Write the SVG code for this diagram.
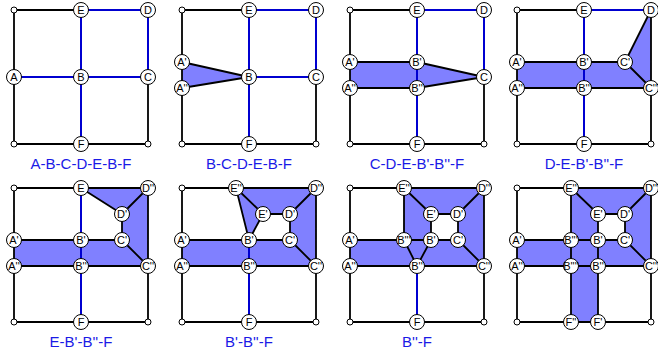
<svg xmlns="http://www.w3.org/2000/svg" width="658" height="353" viewBox="0 0 658 353">
<style>
.k{stroke:#000;stroke-width:1.8;fill:none;stroke-linejoin:round}
.b{stroke:#0000d0;stroke-width:2;fill:none}
.f{fill:#8080ff;stroke:none;fill-rule:evenodd}
.n circle{fill:#fff;stroke:#000;stroke-width:1}
.n text{font-family:"Liberation Sans",Arial,sans-serif;font-size:11px;text-anchor:middle;fill:#000}
.c{fill:#fff;stroke:#000;stroke-width:1}
.lbl{font-family:"Liberation Sans",Arial,sans-serif;font-size:15px;text-anchor:middle;fill:#1a1ae6}
</style>
<rect width="658" height="353" fill="#fff"/>

<!-- Panel 1 -->
<g id="panel1" transform="translate(14,10)">
<g id="p1-connectors">
<path class="k" d="M67,0 H0 V134 H134 V67"/>
<path class="b" d="M67,0 H134 V67 M0,67 H134 M67,0 V134"/>
</g>
<circle class="c" cx="0" cy="0" r="3"/><circle class="c" cx="0" cy="134" r="3"/><circle class="c" cx="134" cy="134" r="3"/>
<g id="p1-E" class="n"><circle cx="67" cy="0" r="7.5"/><text x="67" y="4">E</text></g>
<g id="p1-D" class="n"><circle cx="134" cy="0" r="7.5"/><text x="134" y="4">D</text></g>
<g id="p1-A" class="n"><circle cx="0" cy="67" r="7.5"/><text x="0" y="71">A</text></g>
<g id="p1-B" class="n"><circle cx="67" cy="67" r="7.5"/><text x="67" y="71">B</text></g>
<g id="p1-C" class="n"><circle cx="134" cy="67" r="7.5"/><text x="134" y="71">C</text></g>
<g id="p1-F" class="n"><circle cx="67" cy="134" r="7.5"/><text x="67" y="138">F</text></g>
<text class="lbl" x="67" y="159">A-B-C-D-E-B-F</text>
</g>

<!-- Panel 2 -->
<g id="panel2" transform="translate(182,10)">
<g id="p2-connectors">
<polygon class="f" points="0,52 67,67 0,78"/>
<path class="k" d="M67,0 H0 V134 H134 V67 M0,52 L67,67 L0,78"/>
<path class="b" d="M67,0 H134 V67 H67 M67,0 V134"/>
</g>
<circle class="c" cx="0" cy="0" r="3"/><circle class="c" cx="0" cy="134" r="3"/><circle class="c" cx="134" cy="134" r="3"/>
<g id="p2-E" class="n"><circle cx="67" cy="0" r="7.5"/><text x="67" y="4">E</text></g>
<g id="p2-D" class="n"><circle cx="134" cy="0" r="7.5"/><text x="134" y="4">D</text></g>
<g id="p2-A1" class="n"><circle cx="0" cy="52" r="7.5"/><text x="0" y="56">A'</text></g>
<g id="p2-A2" class="n"><circle cx="0" cy="78" r="7.5"/><text x="0" y="82">A''</text></g>
<g id="p2-B" class="n"><circle cx="67" cy="67" r="7.5"/><text x="67" y="71">B</text></g>
<g id="p2-C" class="n"><circle cx="134" cy="67" r="7.5"/><text x="134" y="71">C</text></g>
<g id="p2-F" class="n"><circle cx="67" cy="134" r="7.5"/><text x="67" y="138">F</text></g>
<text class="lbl" x="67" y="159">B-C-D-E-B-F</text>
</g>

<!-- Panel 3 -->
<g id="panel3" transform="translate(350,10)">
<g id="p3-connectors">
<polygon class="f" points="0,52 67,52 134,67 67,78 0,78"/>
<path class="k" d="M67,0 H0 V134 H134 V67 M0,52 H67 L134,67 L67,78 H0"/>
<path class="b" d="M67,0 H134 V67 M67,0 V134"/>
</g>
<circle class="c" cx="0" cy="0" r="3"/><circle class="c" cx="0" cy="134" r="3"/><circle class="c" cx="134" cy="134" r="3"/>
<g id="p3-E" class="n"><circle cx="67" cy="0" r="7.5"/><text x="67" y="4">E</text></g>
<g id="p3-D" class="n"><circle cx="134" cy="0" r="7.5"/><text x="134" y="4">D</text></g>
<g id="p3-A1" class="n"><circle cx="0" cy="52" r="7.5"/><text x="0" y="56">A'</text></g>
<g id="p3-A2" class="n"><circle cx="0" cy="78" r="7.5"/><text x="0" y="82">A''</text></g>
<g id="p3-B1" class="n"><circle cx="67" cy="52" r="7.5"/><text x="67" y="56">B'</text></g>
<g id="p3-B2" class="n"><circle cx="67" cy="78" r="7.5"/><text x="67" y="82">B''</text></g>
<g id="p3-C" class="n"><circle cx="134" cy="67" r="7.5"/><text x="134" y="71">C</text></g>
<g id="p3-F" class="n"><circle cx="67" cy="134" r="7.5"/><text x="67" y="138">F</text></g>
<text class="lbl" x="67" y="159">C-D-E-B'-B''-F</text>
</g>

<!-- Panel 4 -->
<g id="panel4" transform="translate(517,10)">
<g id="p4-connectors">
<polygon class="f" points="0,52 108,52 134,0 134,78 0,78"/>
<path class="k" d="M67,0 H0 V134 H134 V0 M0,52 H108 L134,0 M108,52 L134,78 H0"/>
<path class="b" d="M67,0 H134 M67,0 V134"/>
</g>
<circle class="c" cx="0" cy="0" r="3"/><circle class="c" cx="0" cy="134" r="3"/><circle class="c" cx="134" cy="134" r="3"/>
<g id="p4-E" class="n"><circle cx="67" cy="0" r="7.5"/><text x="67" y="4">E</text></g>
<g id="p4-D" class="n"><circle cx="134" cy="0" r="7.5"/><text x="134" y="4">D</text></g>
<g id="p4-A1" class="n"><circle cx="0" cy="52" r="7.5"/><text x="0" y="56">A'</text></g>
<g id="p4-A2" class="n"><circle cx="0" cy="78" r="7.5"/><text x="0" y="82">A''</text></g>
<g id="p4-B1" class="n"><circle cx="67" cy="52" r="7.5"/><text x="67" y="56">B'</text></g>
<g id="p4-B2" class="n"><circle cx="67" cy="78" r="7.5"/><text x="67" y="82">B''</text></g>
<g id="p4-C1" class="n"><circle cx="108" cy="52" r="7.5"/><text x="108" y="56">C'</text></g>
<g id="p4-C2" class="n"><circle cx="134" cy="78" r="7.5"/><text x="134" y="82">C''</text></g>
<g id="p4-F" class="n"><circle cx="67" cy="134" r="7.5"/><text x="67" y="138">F</text></g>
<text class="lbl" x="67" y="159">D-E-B'-B''-F</text>
</g>

<!-- Panel 5 -->
<g id="panel5" transform="translate(14,188)">
<g id="p5-connectors">
<polygon class="f" points="0,52 108,52 108,26 67,0 134,0 134,78 0,78"/>
<path class="k" d="M0,0 H134 V134 H0 Z M0,52 H108 V26 L67,0 M108,26 L134,0 M108,52 L134,78 H0"/>
<path class="b" d="M67,0 V134"/>
</g>
<circle class="c" cx="0" cy="0" r="3"/><circle class="c" cx="0" cy="134" r="3"/><circle class="c" cx="134" cy="134" r="3"/>
<g id="p5-E" class="n"><circle cx="67" cy="0" r="7.5"/><text x="67" y="4">E</text></g>
<g id="p5-D2" class="n"><circle cx="134" cy="0" r="7.5"/><text x="134" y="4">D''</text></g>
<g id="p5-D1" class="n"><circle cx="108" cy="26" r="7.5"/><text x="108" y="30">D'</text></g>
<g id="p5-A1" class="n"><circle cx="0" cy="52" r="7.5"/><text x="0" y="56">A'</text></g>
<g id="p5-A2" class="n"><circle cx="0" cy="78" r="7.5"/><text x="0" y="82">A''</text></g>
<g id="p5-B1" class="n"><circle cx="67" cy="52" r="7.5"/><text x="67" y="56">B'</text></g>
<g id="p5-B2" class="n"><circle cx="67" cy="78" r="7.5"/><text x="67" y="82">B''</text></g>
<g id="p5-C1" class="n"><circle cx="108" cy="52" r="7.5"/><text x="108" y="56">C'</text></g>
<g id="p5-C2" class="n"><circle cx="134" cy="78" r="7.5"/><text x="134" y="82">C''</text></g>
<g id="p5-F" class="n"><circle cx="67" cy="134" r="7.5"/><text x="67" y="138">F</text></g>
<text class="lbl" x="67" y="159">E-B'-B''-F</text>
</g>

<!-- Panel 6 -->
<g id="panel6" transform="translate(182,188)">
<g id="p6-connectors">
<path class="f" d="M0,52 H67 L54,0 H134 V78 H0 Z M67,52 L81,26 H108 V52 Z"/>
<path class="k" d="M0,0 H134 V134 H0 Z M0,52 H108 M54,0 L67,52 M54,0 L81,26 H108 L134,0 M81,26 L67,52 M108,26 V52 L134,78 H0"/>
<path class="b" d="M67,52 V134"/>
</g>
<circle class="c" cx="0" cy="0" r="3"/><circle class="c" cx="0" cy="134" r="3"/><circle class="c" cx="134" cy="134" r="3"/>
<g id="p6-E2" class="n"><circle cx="54" cy="0" r="7.5"/><text x="54" y="4">E''</text></g>
<g id="p6-D2" class="n"><circle cx="134" cy="0" r="7.5"/><text x="134" y="4">D''</text></g>
<g id="p6-E1" class="n"><circle cx="81" cy="26" r="7.5"/><text x="81" y="30">E'</text></g>
<g id="p6-D1" class="n"><circle cx="108" cy="26" r="7.5"/><text x="108" y="30">D'</text></g>
<g id="p6-A1" class="n"><circle cx="0" cy="52" r="7.5"/><text x="0" y="56">A'</text></g>
<g id="p6-A2" class="n"><circle cx="0" cy="78" r="7.5"/><text x="0" y="82">A''</text></g>
<g id="p6-B1" class="n"><circle cx="67" cy="52" r="7.5"/><text x="67" y="56">B'</text></g>
<g id="p6-B2" class="n"><circle cx="67" cy="78" r="7.5"/><text x="67" y="82">B''</text></g>
<g id="p6-C1" class="n"><circle cx="108" cy="52" r="7.5"/><text x="108" y="56">C'</text></g>
<g id="p6-C2" class="n"><circle cx="134" cy="78" r="7.5"/><text x="134" y="82">C''</text></g>
<g id="p6-F" class="n"><circle cx="67" cy="134" r="7.5"/><text x="67" y="138">F</text></g>
<text class="lbl" x="67" y="159">B'-B''-F</text>
</g>

<!-- Panel 7 -->
<g id="panel7" transform="translate(350,188)">
<g id="p7-connectors">
<path class="f" d="M0,52 H54 V0 H134 V78 H0 Z M81,52 V26 H108 V52 Z"/>
<path class="k" d="M0,0 H134 V134 H0 Z M0,52 H108 M54,52 V0 M54,0 L81,26 H108 L134,0 M81,26 V52 M108,26 V52 L134,78 H0 M54,52 L67,78 L81,52"/>
<path class="b" d="M67,78 V134"/>
</g>
<circle class="c" cx="0" cy="0" r="3"/><circle class="c" cx="0" cy="134" r="3"/><circle class="c" cx="134" cy="134" r="3"/>
<g id="p7-E2" class="n"><circle cx="54" cy="0" r="7.5"/><text x="54" y="4">E''</text></g>
<g id="p7-D2" class="n"><circle cx="134" cy="0" r="7.5"/><text x="134" y="4">D''</text></g>
<g id="p7-E1" class="n"><circle cx="81" cy="26" r="7.5"/><text x="81" y="30">E'</text></g>
<g id="p7-D1" class="n"><circle cx="108" cy="26" r="7.5"/><text x="108" y="30">D'</text></g>
<g id="p7-A1" class="n"><circle cx="0" cy="52" r="7.5"/><text x="0" y="56">A'</text></g>
<g id="p7-A2" class="n"><circle cx="0" cy="78" r="7.5"/><text x="0" y="82">A''</text></g>
<g id="p7-B3" class="n"><circle cx="54" cy="52" r="7.5"/><text x="54" y="56">B'''</text></g>
<g id="p7-B1" class="n"><circle cx="81" cy="52" r="7.5"/><text x="81" y="56">B'</text></g>
<g id="p7-C1" class="n"><circle cx="108" cy="52" r="7.5"/><text x="108" y="56">C'</text></g>
<g id="p7-B2" class="n"><circle cx="67" cy="78" r="7.5"/><text x="67" y="82">B''</text></g>
<g id="p7-C2" class="n"><circle cx="134" cy="78" r="7.5"/><text x="134" y="82">C''</text></g>
<g id="p7-F" class="n"><circle cx="67" cy="134" r="7.5"/><text x="67" y="138">F</text></g>
<text class="lbl" x="67" y="159">B''-F</text>
</g>

<!-- Panel 8 -->
<g id="panel8" transform="translate(517,188)">
<g id="p8-connectors">
<path class="f" d="M0,52 H54 V0 H134 V78 H81 V134 H54 V78 H0 Z M81,52 V26 H108 V52 Z"/>
<path class="k" d="M0,0 H134 V134 H0 Z M0,52 H108 M54,0 V134 M54,0 L81,26 H108 L134,0 M81,26 V134 M108,26 V52 L134,78 H0"/>
</g>
<circle class="c" cx="0" cy="0" r="3"/><circle class="c" cx="0" cy="134" r="3"/><circle class="c" cx="134" cy="134" r="3"/>
<g id="p8-E2" class="n"><circle cx="54" cy="0" r="7.5"/><text x="54" y="4">E''</text></g>
<g id="p8-D2" class="n"><circle cx="134" cy="0" r="7.5"/><text x="134" y="4">D''</text></g>
<g id="p8-E1" class="n"><circle cx="81" cy="26" r="7.5"/><text x="81" y="30">E'</text></g>
<g id="p8-D1" class="n"><circle cx="108" cy="26" r="7.5"/><text x="108" y="30">D'</text></g>
<g id="p8-A1" class="n"><circle cx="0" cy="52" r="7.5"/><text x="0" y="56">A'</text></g>
<g id="p8-A2" class="n"><circle cx="0" cy="78" r="7.5"/><text x="0" y="82">A''</text></g>
<g id="p8-B3" class="n"><circle cx="54" cy="52" r="7.5"/><text x="54" y="56">B'''</text></g>
<g id="p8-B1" class="n"><circle cx="81" cy="52" r="7.5"/><text x="81" y="56">B'</text></g>
<g id="p8-C1" class="n"><circle cx="108" cy="52" r="7.5"/><text x="108" y="56">C'</text></g>
<g id="p8-B4" class="n"><circle cx="54" cy="78" r="7.5"/><text x="54" y="82">B''''</text></g>
<g id="p8-B2" class="n"><circle cx="81" cy="78" r="7.5"/><text x="81" y="82">B''</text></g>
<g id="p8-C2" class="n"><circle cx="134" cy="78" r="7.5"/><text x="134" y="82">C''</text></g>
<g id="p8-F2" class="n"><circle cx="54" cy="134" r="7.5"/><text x="54" y="138">F''</text></g>
<g id="p8-F1" class="n"><circle cx="81" cy="134" r="7.5"/><text x="81" y="138">F'</text></g>
</g>
</svg>
